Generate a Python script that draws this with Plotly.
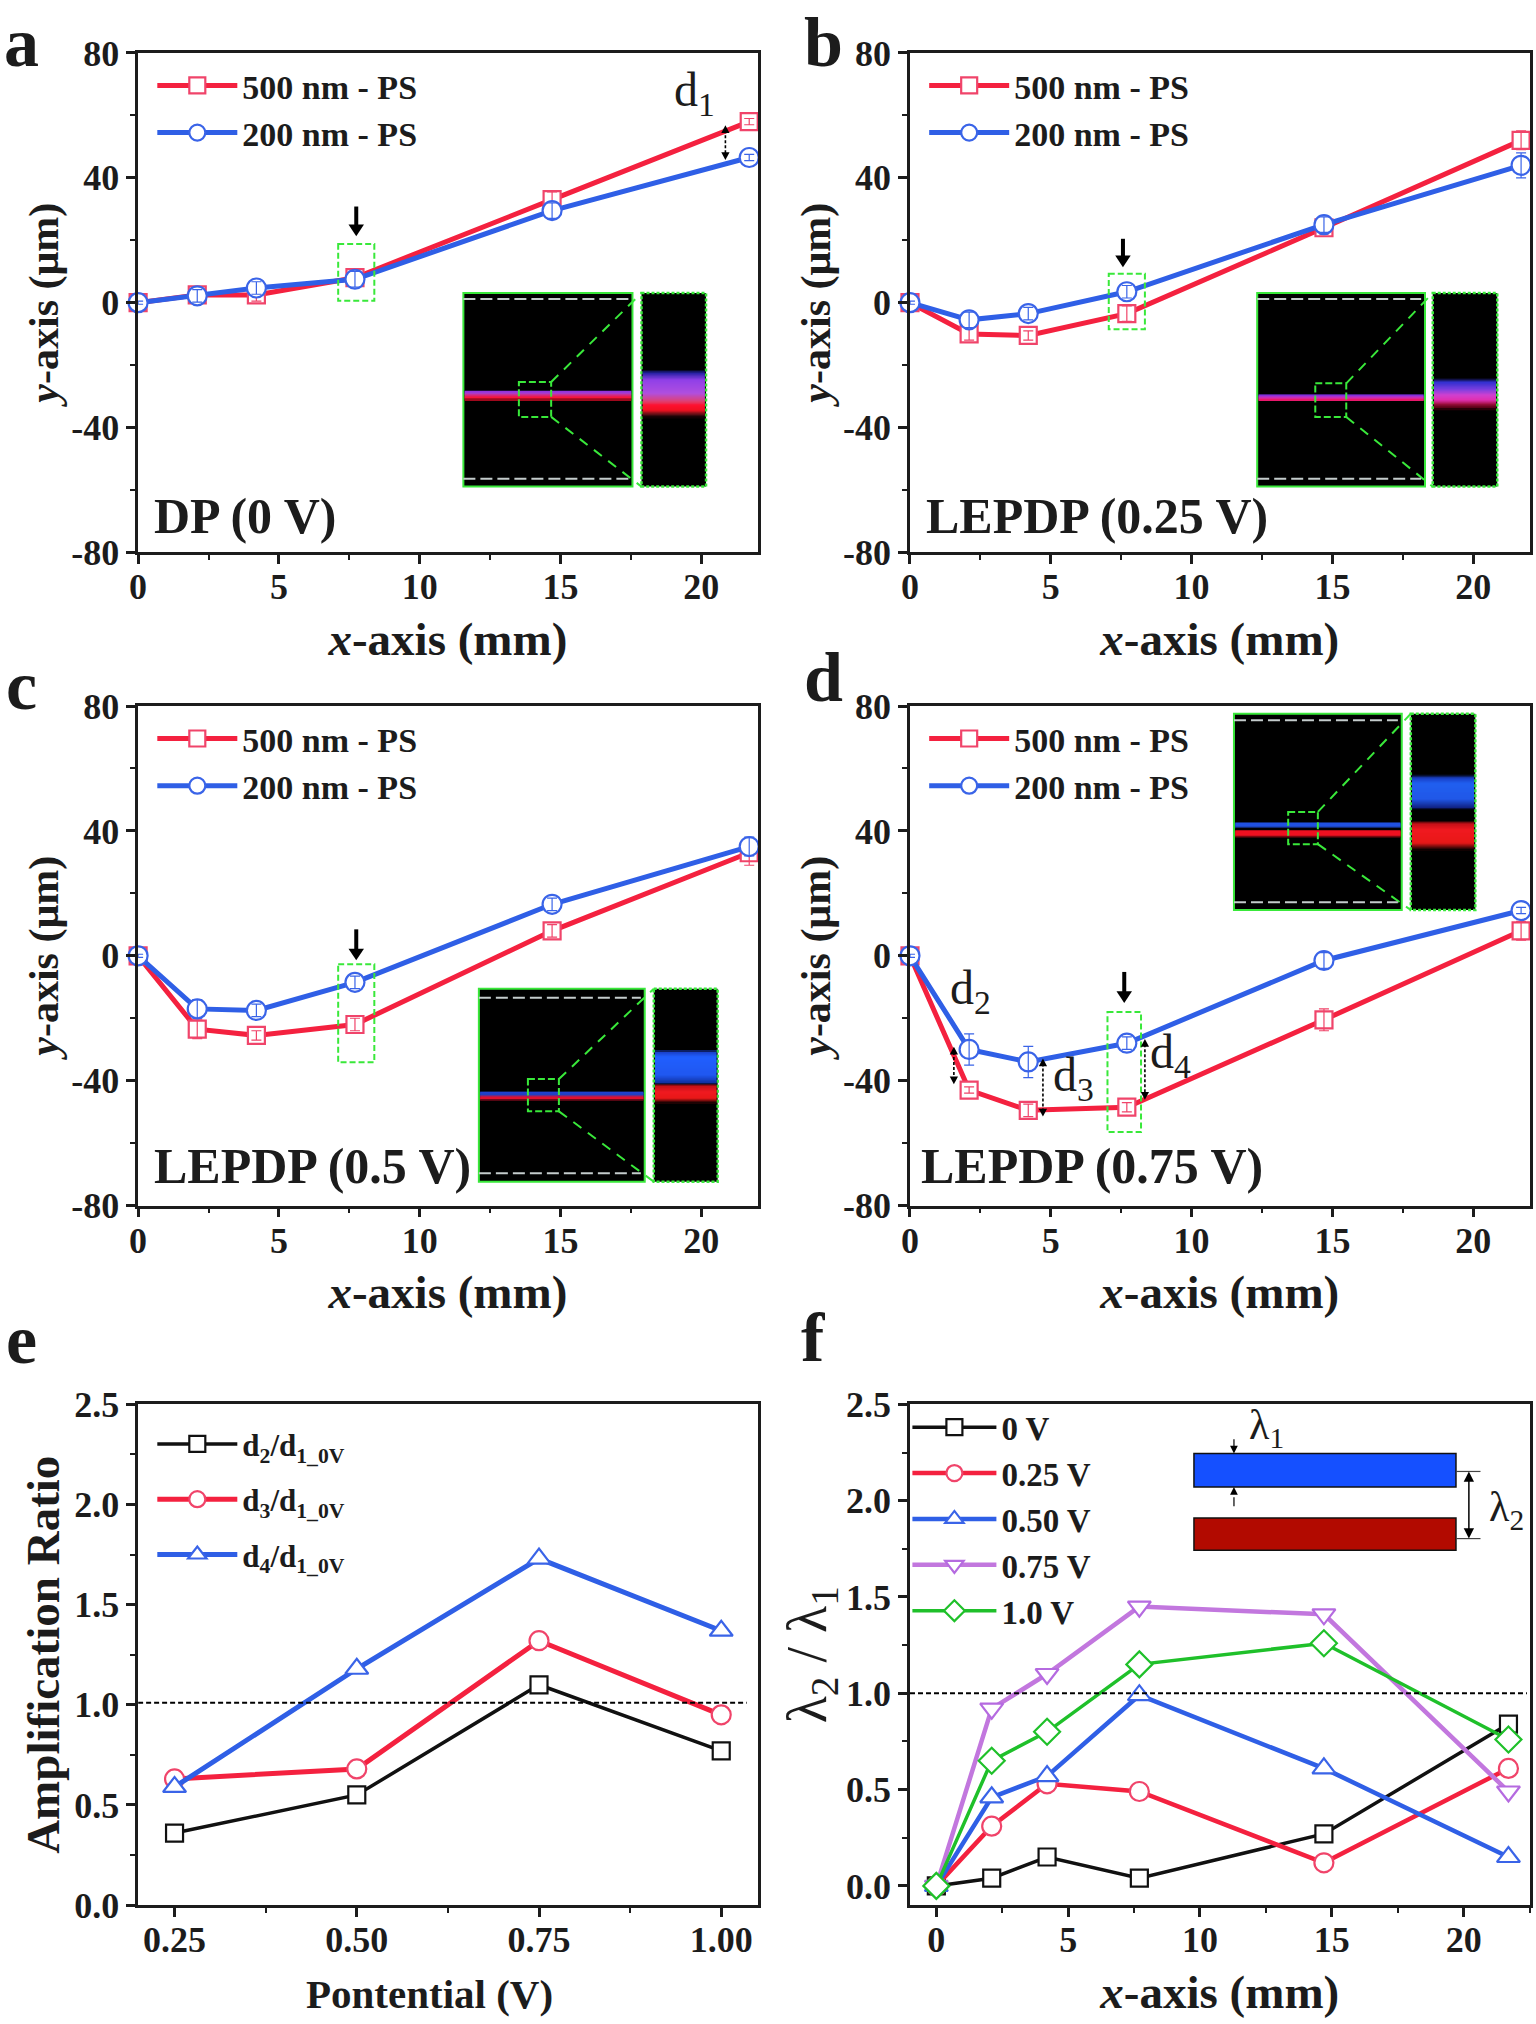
import plotly.graph_objects as go

W, H = 1536, 2024
R = 1536 / 1190
SERIF = "Liberation Serif"
INK = "#1c1c1c"
RED, BLUE, BLK, PUR, GRN = "#f4213f", "#2f5fe6", "#111111", "#c277de", "#1fc02a"
REDM, BLUEM = "#f0446a", "#3a64e8"

x_pos = [0, 2.1, 4.2, 7.7, 14.7, 21.7]
a_red = [0, 2.5, 2.5, 8, 33, 58]
a_blue = [0, 2.2, 4.7, 7.5, 29.5, 46.5]
b_red = [0, -10, -10.5, -3.5, 24, 52]
b_blue = [0, -5.5, -3.5, 3.5, 25, 44]
c_red = [0, -23.5, -25.5, -22, 8, 33]
c_blue = [0, -17, -17.5, -8.5, 16.5, 35]
d_red = [0, -43, -49.5, -48.5, -20.5, 8]
d_blue = [0, -30, -34, -28, -1.5, 14.5]
a_red_err = [0.5, 2, 2, 2, 2.5, 1]
a_blue_err = [0.5, 2, 2, 2.5, 2.5, 1]
b_red_err = [0.5, 2, 1.5, 2.5, 2, 3]
b_blue_err = [0.5, 2.5, 2, 2, 2.5, 4]
c_red_err = [0.5, 3, 1.5, 2, 2, 4]
c_blue_err = [0.5, 3, 2, 2, 2, 3]
d_red_err = [0.5, 1, 2, 1.5, 3.5, 3]
d_blue_err = [0.5, 5, 5, 2, 2.5, 1]
pot = [0.25, 0.50, 0.75, 1.00]
e_d2 = [0.36, 0.55, 1.10, 0.77]
e_d3 = [0.63, 0.68, 1.32, 0.95]
e_d4 = [0.59, 1.18, 1.73, 1.37]
f_0 = [0, 0.04, 0.15, 0.04, 0.27, 0.84]
f_25 = [0, 0.31, 0.53, 0.49, 0.12, 0.61]
f_50 = [0, 0.46, 0.57, 0.99, 0.61, 0.15]
f_75 = [0, 0.92, 1.10, 1.45, 1.41, 0.49]
f_100 = [0, 0.65, 0.80, 1.15, 1.26, 0.76]
um_ticks = [-80, -40, 0, 40, 80]
um_tick_labels = ["-80", "-40", "0", "40", "80"]


def PX(x):
    return x * R / W


def PY(y):
    return 1 - y * R / H


font_tick = dict(family=SERIF, size=36, color=INK, weight="bold")
font_xtitle = dict(family=SERIF, size=47, color=INK, weight="bold")
font_ytitle = dict(family=SERIF, size=42, color=INK, weight="bold")
font_leg = dict(family=SERIF, size=34, color=INK, weight="bold")

boxes = {
    "": (107, 587, 41, 428), "2": (705, 1185, 41, 428),
    "3": (107, 587, 547, 934), "4": (705, 1185, 547, 934),
    "5": (107, 587, 1088, 1476), "6": (705, 1185, 1088, 1476),
}

fig = go.Figure()
ann, shp = [], []


def axis_pair(key, xr, xd, xm, yr, yd, ym, xt, yt, xfmt=None, yfmt=None, xtitle_font=None, ytitle_font=None,
              ystand=0, xstand=16, x_tick0=0, yvals=None, ytext=None):
    l, r, t, b = boxes[key]
    common = dict(showline=True, linewidth=2.5, linecolor=INK, mirror=True, ticks="outside", ticklen=9,
                  tickwidth=2.5, tickcolor=INK, showgrid=False, zeroline=False, tickfont=font_tick)
    xa = dict(domain=[PX(l), PX(r)], range=xr, dtick=xd, tick0=x_tick0, anchor="y" + key, ticklabelstandoff=-8,
              minor=dict(ticks="outside", dtick=xm, ticklen=5, tickwidth=2, tickcolor=INK, tick0=x_tick0),
              title=dict(text=xt, font=xtitle_font or font_xtitle, standoff=xstand), **common)
    ya = dict(domain=[PY(b), PY(t)], range=yr, anchor="x" + key,
              minor=dict(ticks="outside", dtick=ym, ticklen=5, tickwidth=2, tickcolor=INK, tick0=0),
              title=dict(text=yt, font=ytitle_font or font_ytitle, standoff=ystand), **common)
    if yvals is not None:
        ya.update(tickmode="array", tickvals=yvals, ticktext=ytext)
    else:
        ya.update(dtick=yd, tick0=0)
    if xfmt:
        xa["tickformat"] = xfmt
    if yfmt:
        ya["tickformat"] = yfmt
    fig.update_layout(**{"xaxis" + key: xa, "yaxis" + key: ya})


def series(key, name, xs, ys, color, mcolor, symbol, width, legend, group, err=None, size=19):
    fig.add_trace(go.Scatter(
        x=xs, y=ys, name=name, mode="lines+markers", xaxis="x" + key, yaxis="y" + key,
        line=dict(color=color, width=width), cliponaxis=False, legend=legend, legendgroup=group,
        marker=dict(symbol=symbol, size=size, color="white", line=dict(color=mcolor, width=2.2))))
    if err is not None:
        fig.add_trace(go.Scatter(
            x=xs, y=ys, mode="markers", xaxis="x" + key, yaxis="y" + key, showlegend=False, cliponaxis=False,
            marker=dict(size=1, color="rgba(0,0,0,0)"), legendgroup=group, legend=legend,
            error_y=dict(type="data", array=err, color=mcolor, thickness=1.2, width=5)))


def legend_at(x, y, gap, iw=80, font=None):
    return dict(x=PX(x), y=PY(y), xanchor="left", yanchor="top", bgcolor="rgba(0,0,0,0)", borderwidth=0,
                font=font or font_leg, itemwidth=iw, tracegroupgap=gap, traceorder="grouped", itemclick=False)


def label(x, y, text, size, weight="bold", xanchor="center", color=INK, angle=0):
    ann.append(dict(x=PX(x), y=PY(y), xref="paper", yref="paper", text=text, showarrow=False, xanchor=xanchor,
                    yanchor="middle", textangle=angle, font=dict(family=SERIF, size=size, color=color, weight=weight)))


def rect(x0, y0, x1, y1, fill="rgba(0,0,0,0)", line=None, lw=0, dash="solid", op=1):
    shp.append(dict(type="rect", xref="paper", yref="paper", x0=PX(x0), x1=PX(x1), y0=PY(y0), y1=PY(y1),
                    fillcolor=fill, opacity=op, line=dict(color=line or "rgba(0,0,0,0)", width=lw, dash=dash)))


def seg(x0, y0, x1, y1, color=INK, lw=1.5, dash="solid"):
    shp.append(dict(type="line", xref="paper", yref="paper", x0=PX(x0), x1=PX(x1), y0=PY(y0), y1=PY(y1),
                    line=dict(color=color, width=lw, dash=dash)))


def head(x, y, up, w=3.2, h=6.0, color="#000000"):
    s = 1 if up else -1
    p = [(x, y), (x - w, y + s * h), (x + w, y + s * h)]
    path = "M " + " L ".join(f"{PX(a):.5f},{PY(b):.5f}" for a, b in p) + " Z"
    shp.append(dict(type="path", xref="paper", yref="paper", path=path, fillcolor=color, line=dict(width=0)))


def down_arrow(x, y0, y1):
    seg(x, y0, x, y1 - 6, "#000000", 4)
    head(x, y1, False, 6, 9)


def dbl(x, y0, y1):
    seg(x, y0 + 4, x, y1 - 4, "#000000", 1.6, "3px,2px")
    head(x, y0, True)
    head(x, y1, False)


def shade(x0, x1, stops):
    """Vertical colour fade through (y, colour) stops, drawn as thin overlapping strips."""
    def rgb(c):
        return [int(c[i:i + 2], 16) for i in (1, 3, 5)]
    for (y0, c0), (y1, c1) in zip(stops, stops[1:]):
        n = max(1, int((y1 - y0) * R))
        a, b = rgb(c0), rgb(c1)
        for k in range(n):
            t = (k + 0.5) / n
            col = "rgb(%d,%d,%d)" % tuple(a[i] + (b[i] - a[i]) * t for i in range(3))
            rect(x0, y0 + (y1 - y0) * k / n, x1, y0 + (y1 - y0) * (k + 1) / n + 0.8, col)


def inset(x0, x1, x2, x3, y0, y1, box, gy, main, second):
    G = "#39e83a"
    rect(x0, y0, x1, y1, "#000000", G, 2)
    rect(x2, y0, x3, y1, "#000000", G, 2.5, "3px,2px")
    shade(x0 + 1, x1 - 1, main)
    shade(x2 + 1, x3 - 1, second)
    rect(box[0], box[2], box[1], box[3], line=G, lw=2, dash="7px,3px")
    seg(box[1], box[2], x2, y0, G, 2, "10px,8px")
    seg(box[1], box[3], x2, y1, G, 2, "10px,8px")
    seg(x0, gy[0], x1 - 3, gy[0], "#c4cccc", 2, "12px,5px")
    seg(x0, gy[1], x1 - 3, gy[1], "#c4cccc", 2, "12px,5px")


xt = "<i>x</i>-axis (mm)"
yt = "<i>y</i>-axis (μm)"
panels = [("", a_red, a_blue, a_red_err, a_blue_err, "legend", (118, 44)),
          ("2", b_red, b_blue, b_red_err, b_blue_err, "legend2", (716, 44)),
          ("3", c_red, c_blue, c_red_err, c_blue_err, "legend3", (118, 550)),
          ("4", d_red, d_blue, d_red_err, d_blue_err, "legend4", (716, 550))]
for key, rd, bl, re_, be_, lg, pos in panels:
    axis_pair(key, [0, 22], 5, 2.5, [-80, 80], 40, 20, xt, yt, yvals=um_ticks, ytext=um_tick_labels)
    series(key, "500 nm - PS", x_pos, rd, RED, REDM, "square", 5, lg, lg + "r", re_, size=17)
    series(key, "200 nm - PS", x_pos, bl, BLUE, BLUEM, "circle", 5, lg, lg + "b", be_)
    fig.update_layout(**{lg: legend_at(pos[0], pos[1], 0)})

axis_pair("5", [0.2, 1.05], 0.25, 0.125, [0, 2.5], 0.5, 0.25, "", "Amplification Ratio", xfmt=".2f",
          yfmt=".1f", ytitle_font=dict(font_ytitle, size=47), ystand=0, x_tick0=0.25)
label(333, 1545, "Pontential (V)", 41)
series("5", "d<sub>2</sub>/d<sub>1_0V</sub>", pot, e_d2, BLK, BLK, "square", 3.5, "legend5", "e2", size=17)
series("5", "d<sub>3</sub>/d<sub>1_0V</sub>", pot, e_d3, RED, REDM, "circle", 5, "legend5", "e3")
series("5", "d<sub>4</sub>/d<sub>1_0V</sub>", pot, e_d4, BLUE, BLUEM, "triangle-up", 5, "legend5", "e4", size=20)
fig.update_layout(legend5=legend_at(118, 1098, 12, font=dict(font_leg, size=31)))

axis_pair("6", [-1, 22.5], 5, 2.5, [-0.1, 2.5], 0.5, 0.25, xt, "λ<sub>2</sub> / λ<sub>1</sub>", yfmt=".1f",
          ytitle_font=dict(family=SERIF, size=56, color=INK, weight="normal"), ystand=0)
series("6", "0 V", x_pos, f_0, BLK, BLK, "square", 3.5, "legend6", "f0", size=17)
series("6", "0.25 V", x_pos, f_25, RED, REDM, "circle", 4.5, "legend6", "f1")
series("6", "0.50 V", x_pos, f_50, BLUE, BLUEM, "triangle-up", 4.5, "legend6", "f2", size=20)
series("6", "0.75 V", x_pos, f_75, PUR, "#b56ae0", "triangle-down", 4.5, "legend6", "f3", size=20)
series("6", "1.0 V", x_pos, f_100, GRN, GRN, "diamond", 3.5, "legend6", "f4", size=20)
fig.update_layout(legend6=legend_at(703, 1084, 0, iw=84, font=dict(font_leg, size=33)))

# reference lines at ratio = 1
shp.append(dict(type="line", xref="x5", yref="y5", x0=0.2, x1=1.035, y0=1.01, y1=1.01,
                line=dict(color="#000000", width=2, dash="5px,3px")))
shp.append(dict(type="line", xref="x6", yref="y6", x0=-1, x1=22.4, y0=1.0, y1=1.0,
                line=dict(color="#000000", width=2, dash="5px,3px")))

# panel letters
for t, x, y in [("a", 17, 33), ("b", 638, 33), ("c", 17, 531), ("d", 638, 525), ("e", 17, 1038), ("f", 630, 1036)]:
    label(x, y, t, 70)

# panel captions
label(118, 400, "DP (0 V)", 50, xanchor="left")
label(716, 400, "LEPDP (0.25 V)", 50, xanchor="left")
label(118, 903, "LEPDP (0.5 V)", 50, xanchor="left")
label(712, 903, "LEPDP (0.75 V)", 50, xanchor="left")

# dashed selection boxes and arrows
GD = "#39e83a"
rect(262, 189, 290, 233, line=GD, lw=2, dash="6px,3px")
rect(859, 212, 887, 255, line=GD, lw=2, dash="6px,3px")
rect(262, 747, 290, 823, line=GD, lw=2, dash="6px,3px")
rect(858, 784, 884, 877, line=GD, lw=2, dash="6px,3px")
down_arrow(276, 160, 183)
down_arrow(870, 185, 207)
down_arrow(276, 720, 744)
down_arrow(871, 753, 777)

K = "#000000"
inset(359, 490, 497, 547, 227, 377, (402, 427, 296, 323), (231.6, 371),
      [(302.5, K), (303, "#8a30e0"), (305, "#b040d0"), (306.5, "#e02060"), (308.5, "#ff1030"), (309.8, "#400008")],
      [(286.7, K), (288.7, "#2020a0"), (294.4, "#9040e8"), (304.7, "#b050e0"), (311, "#e04070"), (314, "#ff1030"),
       (318, "#f01020"), (320.5, "#701018"), (323.5, K)])
inset(974, 1104, 1110, 1160, 227, 377, (1019, 1043, 297, 323), (231.6, 371),
      [(305.3, K), (305.8, "#7030e0"), (308, "#d030c0"), (309.8, "#f01050")],
      [(293, K), (296, "#3030d0"), (302, "#8040e0"), (306, "#d040d0"), (310, "#e030b0"), (313, "#a01040"),
       (316, "#500010"), (317, K)])
inset(371, 499.5, 506.5, 556, 766, 915.5, (409, 433, 836, 861), (773, 909),
      [(845.5, K), (846, "#2040d0"), (848.5, "#2040c0"), (849.5, "#e01030"), (851.5, "#e01030"), (852, K)],
      [(813.5, K), (815, "#1a40c8"), (819, "#2060ff"), (833, "#2058f0"), (839, "#1030a0"), (840, K), (841, "#c01018"),
       (846, "#f01a20"), (851, "#e81818"), (854.5, K)])
inset(956, 1086, 1093, 1143, 553, 705, (998, 1021, 629, 654), (558, 699),
      [(637, K), (637.5, "#2050e0"), (640.5, "#2050e0"), (641.5, K), (643, K), (643.5, "#f01020"), (647.5, "#f01020"), (648, K)],
      [(600, K), (603, "#1a40c8"), (607, "#2060f0"), (619, "#2058e8"), (626, "#102080"), (627, K), (636, K),
       (638, "#c01018"), (643, "#f01a20"), (653, "#e81818"), (658.5, K)])

# d annotations
label(538, 72, "d<sub>1</sub>", 48, "normal")
dbl(562, 97, 124)
label(752, 768, "d<sub>2</sub>", 48, "normal")
dbl(739, 811, 840)
label(832, 835, "d<sub>3</sub>", 48, "normal")
dbl(808, 820, 865)
label(907, 817, "d<sub>4</sub>", 48, "normal")
dbl(887, 805, 852)

# panel f schematic
rect(925, 1126, 1128, 1152, "#1550ff", "#111111", 1.5)
rect(925, 1176, 1128, 1201, "#b20a00", "#111111", 1.5)
seg(956, 1115, 956, 1122, "#000000", 1.2)
head(956, 1126, False, 3, 6)
seg(956, 1160, 956, 1167, "#000000", 1.2)
head(956, 1152, True, 3, 6)
seg(1128, 1140, 1147, 1140, "#444444", 1.2)
seg(1128, 1192, 1147, 1192, "#444444", 1.2)
seg(1138, 1143, 1138, 1189, "#000000", 1.5)
head(1138, 1140, True, 4, 8)
head(1138, 1192, False, 4, 8)
label(981, 1106, "λ<sub>1</sub>", 42, "normal")
label(1167, 1170, "λ<sub>2</sub>", 42, "normal")

fig.update_layout(width=W, height=H, margin=dict(l=0, r=0, t=0, b=0, autoexpand=False), plot_bgcolor="white",
                  paper_bgcolor="white", showlegend=True, annotations=ann, shapes=shp)
fig.write_html("out.html", post_script="document.body.style.margin='0';", config={"displayModeBar": False})
